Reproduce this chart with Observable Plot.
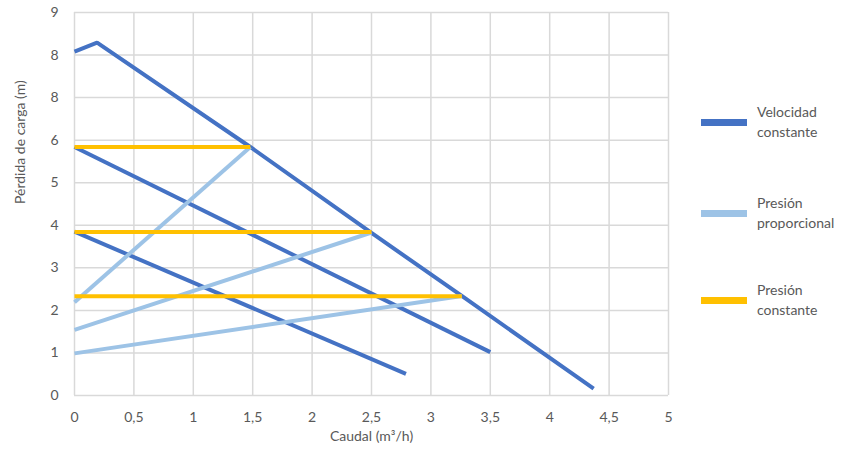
<!DOCTYPE html>
<html><head><meta charset="utf-8">
<script src="https://cdn.jsdelivr.net/npm/d3@7"></script>
<script src="https://cdn.jsdelivr.net/npm/@observablehq/plot@0.6"></script>
<style>
body{margin:0;background:#fff;}
#wrap{position:relative;width:850px;height:450px;font-family:Lato,sans-serif;color:#595959;}
#wrap svg{position:absolute;left:0;top:0;}
.leg{position:absolute;left:701px;}
.sw{position:absolute;left:0;width:46px;height:7px;}
.lt{position:absolute;left:56px;font-size:14px;line-height:20px;white-space:nowrap;}
</style></head><body><div id="wrap"></div>
<script>
const seriesNames = ["Velocidad constante", "Presión proporcional", "Presión constante"];
const legendLines = [["Velocidad", "constante"], ["Presión", "proporcional"], ["Presión", "constante"]];
const seriesColors = ["#4472C4", "#9DC3E6", "#FFC000"];

const xTitle = "Caudal (m³/h)";
const yTitle = "Pérdida de carga (m)";
const xTicks = [0, 0.5, 1, 1.5, 2, 2.5, 3, 3.5, 4, 4.5, 5];
const xTickLabels = ["0", "0,5", "1", "1,5", "2", "2,5", "3", "3,5", "4", "4,5", "5"];
const yTicks = [0, 1, 2, 3, 4, 5, 6, 7, 8, 9];
const yTickLabels = ["0", "1", "2", "3", "4", "5", "6", "8", "8", "9"];

// Velocidad constante curves
const velocidad1 = [[0, 8.08], [0.19, 8.29], [1.48, 5.84], [2.5, 3.82], [3.26, 2.34], [4.37, 0.16]];
const velocidad2 = [[0, 5.84], [3.5, 1.02]];
const velocidad3 = [[0, 3.85], [2.79, 0.51]];
// Presión proporcional curves
const proporcional1 = [[0, 2.19], [1.48, 5.84]];
const proporcional2 = [[0, 1.54], [2.5, 3.83]];
const proporcional3 = [[0, 0.99], [3.26, 2.34]];
// Presión constante curves
const constante1 = [[0, 5.84], [1.48, 5.84]];
const constante2 = [[0, 3.84], [2.5, 3.84]];
const constante3 = [[0, 2.33], [3.26, 2.33]];

const groups = [
  [velocidad1, velocidad2, velocidad3],
  [proporcional1, proporcional2, proporcional3],
  [constante1, constante2, constante3]
];
const rows = [];
groups.forEach((g, si) => g.forEach((curve, ci) => curve.forEach(([x, y]) =>
  rows.push({series: seriesNames[si], id: si + "-" + ci, x, y}))));

const chart = Plot.plot({
  width: 850, height: 450,
  marginLeft: 74, marginRight: 182, marginTop: 12, marginBottom: 55,
  style: {fontFamily: "Lato, sans-serif", fontSize: "14px", color: "#595959", background: "transparent"},
  x: {domain: [0, 5], ticks: xTicks, tickFormat: d => xTickLabels[xTicks.indexOf(d)],
      label: null, tickSize: 0, tickPadding: 17},
  y: {domain: [0, 9], ticks: yTicks, tickFormat: d => yTickLabels[yTicks.indexOf(d)],
      label: null, tickSize: 0, tickPadding: 16},
  color: {domain: seriesNames, range: seriesColors},
  marks: [
    Plot.gridX(xTicks, {stroke: "#D9D9D9", strokeOpacity: 1, strokeWidth: 1.5}),
    Plot.gridY(yTicks, {stroke: "#D9D9D9", strokeOpacity: 1, strokeWidth: 1.5}),
    ...seriesNames.map(s => Plot.line(rows.filter(r => r.series === s),
      {x: "x", y: "y", z: "id", stroke: "series", strokeWidth: 4, strokeLinejoin: "miter", strokeLinecap: "butt"})),
    Plot.text([xTitle], {text: d => d, frameAnchor: "bottom", dy: 45, fill: "#595959", fontSize: 14}),
    Plot.text([yTitle], {text: d => d, frameAnchor: "left", dx: -54, rotate: -90, fill: "#595959", fontSize: 14})
  ]
});
const wrap = document.getElementById("wrap");
wrap.appendChild(chart);

const legendY = [122, 213, 300];
seriesNames.forEach((s, i) => {
  const item = document.createElement("div");
  item.className = "leg";
  item.style.top = legendY[i] + "px";
  const sw = document.createElement("div");
  sw.className = "sw";
  sw.style.background = seriesColors[i];
  sw.style.top = "-3.5px";
  item.appendChild(sw);
  const t = document.createElement("div");
  t.className = "lt";
  t.style.top = "-20px";
  t.innerHTML = legendLines[i].join("<br>");
  item.appendChild(t);
  wrap.appendChild(item);
});
</script></body></html>
